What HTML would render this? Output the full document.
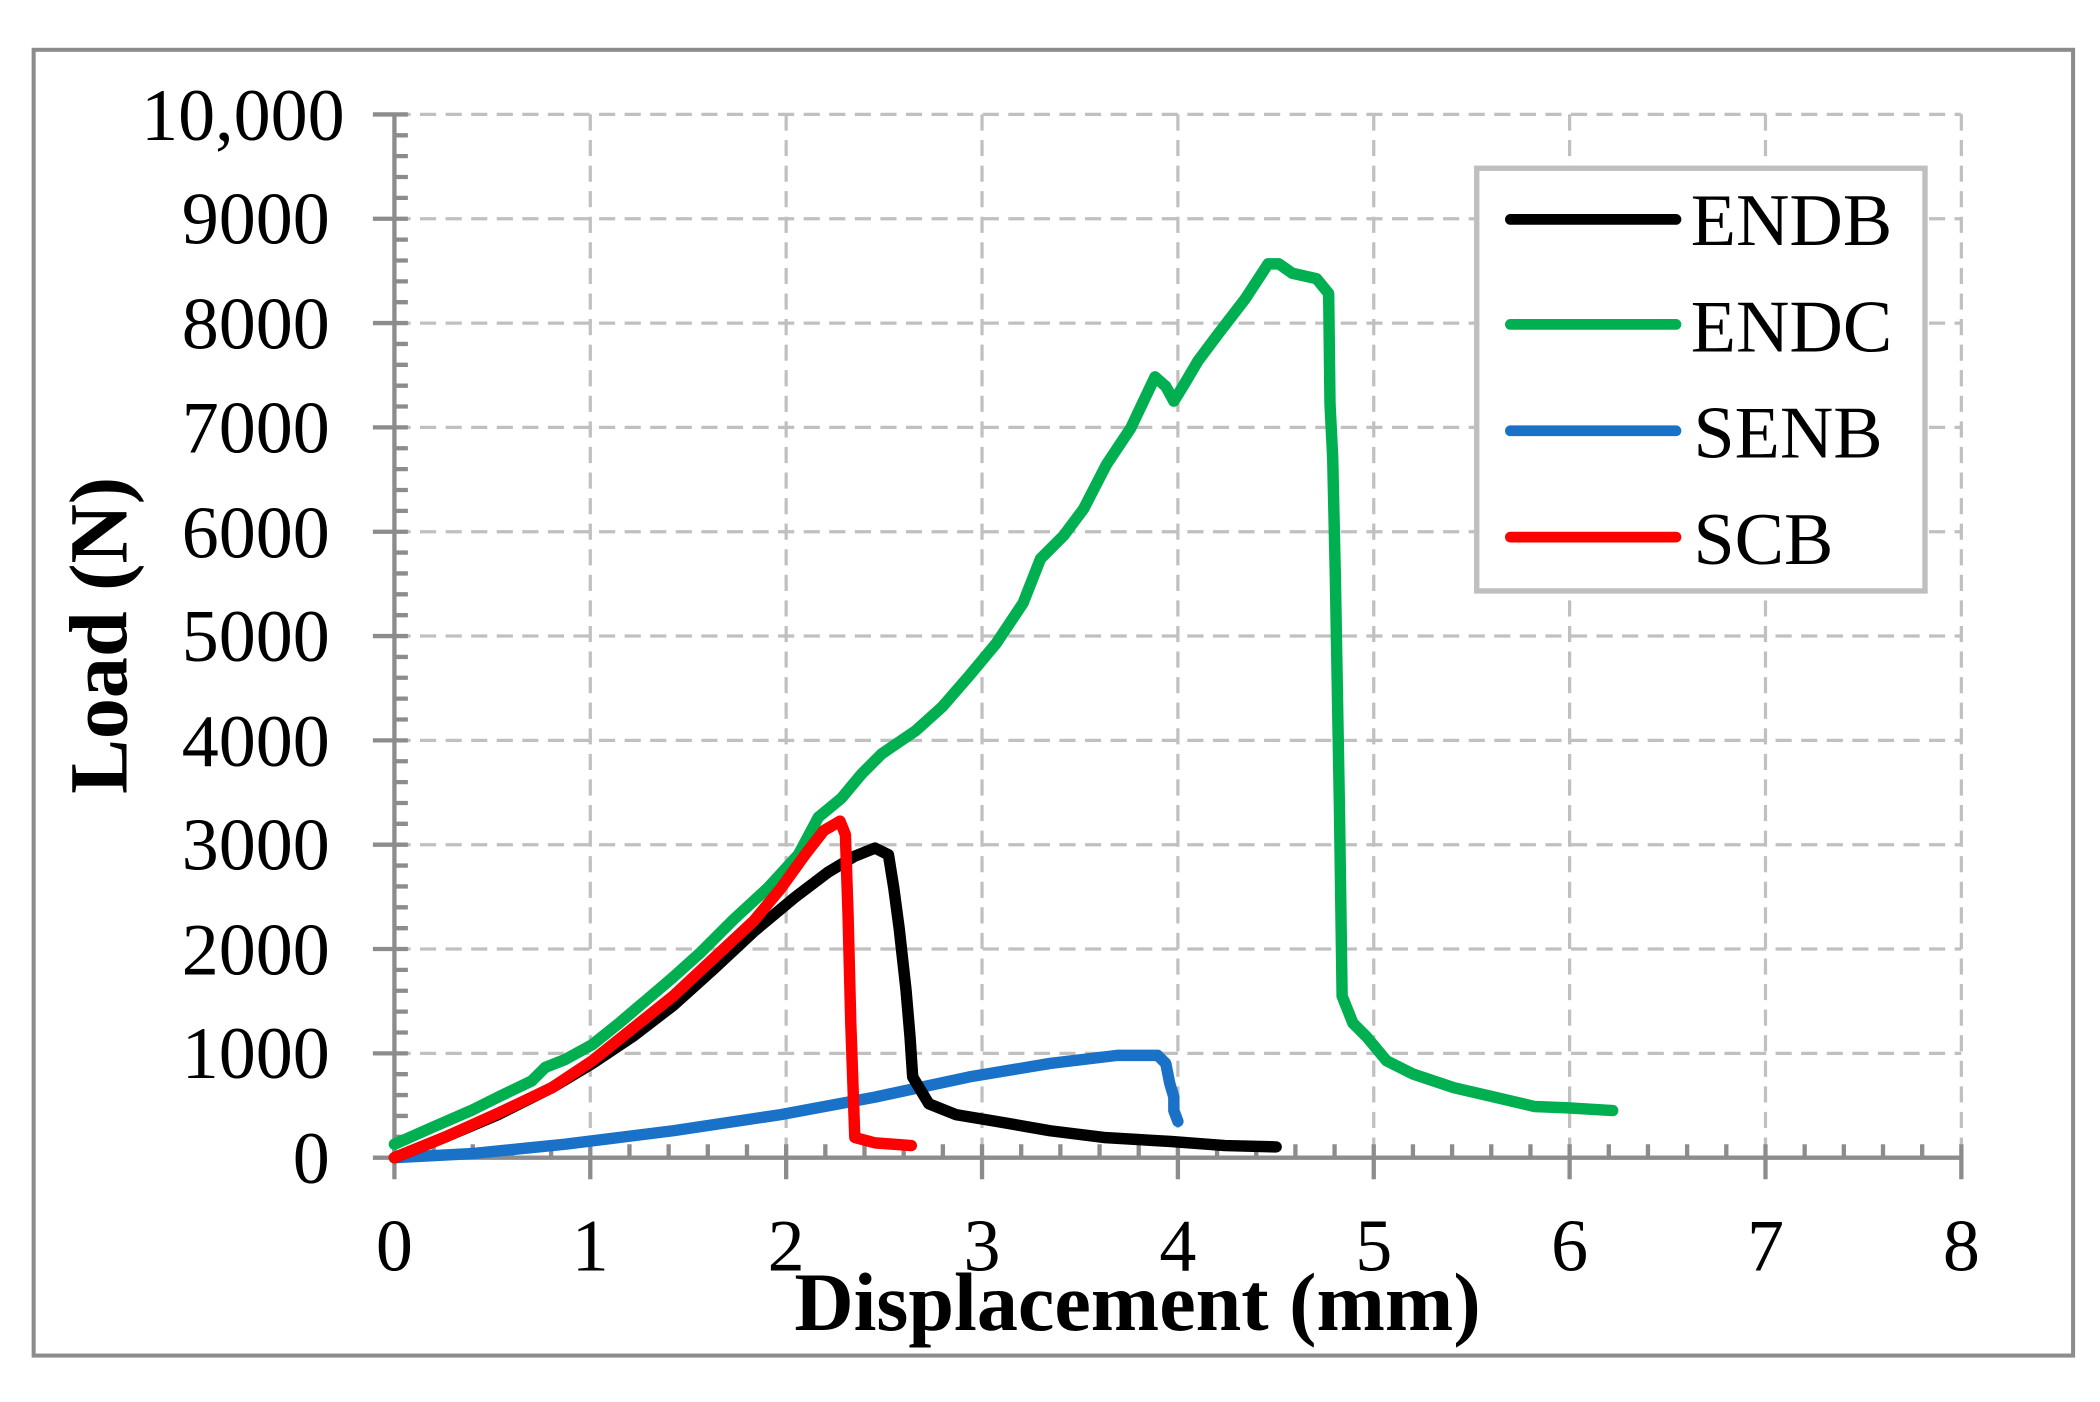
<!DOCTYPE html>
<html><head><meta charset="utf-8"><style>html,body{margin:0;padding:0;background:#fff}svg{display:block}</style></head>
<body>
<svg width="2100" height="1402" viewBox="0 0 1560 1041.5" preserveAspectRatio="none" xmlns="http://www.w3.org/2000/svg" font-family="'Liberation Serif', serif">
<rect x="0" y="0" width="1560" height="1041.5" fill="#fff"/>
<rect x="25" y="37" width="1515" height="970" fill="none" stroke="#8c8c8c" stroke-width="3"/>
<g stroke="#c0c0c0" stroke-width="2.4" stroke-dasharray="12 7">
<line x1="438.5" y1="85" x2="438.5" y2="860"/><line x1="584" y1="85" x2="584" y2="860"/><line x1="729.5" y1="85" x2="729.5" y2="860"/><line x1="875" y1="85" x2="875" y2="860"/><line x1="1020.5" y1="85" x2="1020.5" y2="860"/><line x1="1166" y1="85" x2="1166" y2="860"/><line x1="1311.5" y1="85" x2="1311.5" y2="860"/><line x1="1457" y1="85" x2="1457" y2="860"/>
<line x1="293" y1="85" x2="1457" y2="85"/><line x1="293" y1="162.5" x2="1457" y2="162.5"/><line x1="293" y1="240" x2="1457" y2="240"/><line x1="293" y1="317.5" x2="1457" y2="317.5"/><line x1="293" y1="395" x2="1457" y2="395"/><line x1="293" y1="472.5" x2="1457" y2="472.5"/><line x1="293" y1="550" x2="1457" y2="550"/><line x1="293" y1="627.5" x2="1457" y2="627.5"/><line x1="293" y1="705" x2="1457" y2="705"/><line x1="293" y1="782.5" x2="1457" y2="782.5"/>
</g>
<g stroke="#8c8c8c" stroke-width="3.2">
<line x1="293" y1="85" x2="293" y2="860"/><line x1="293" y1="860" x2="1457" y2="860"/>
<path d="M277 85H303M277 162.5H303M277 240H303M277 317.5H303M277 395H303M277 472.5H303M277 550H303M277 627.5H303M277 705H303M277 782.5H303M277 860H303"/>
<path d="M293 100.5h10M293 116h10M293 131.5h10M293 147h10M293 178h10M293 193.5h10M293 209h10M293 224.5h10M293 255.5h10M293 271h10M293 286.5h10M293 302h10M293 333h10M293 348.5h10M293 364h10M293 379.5h10M293 410.5h10M293 426h10M293 441.5h10M293 457h10M293 488h10M293 503.5h10M293 519h10M293 534.5h10M293 565.5h10M293 581h10M293 596.5h10M293 612h10M293 643h10M293 658.5h10M293 674h10M293 689.5h10M293 720.5h10M293 736h10M293 751.5h10M293 767h10M293 798h10M293 813.5h10M293 829h10M293 844.5h10"/>
<path d="M293 850V876M438.5 850V876M584 850V876M729.5 850V876M875 850V876M1020.5 850V876M1166 850V876M1311.5 850V876M1457 850V876"/>
<path d="M322.1 850v10M351.2 850v10M380.3 850v10M409.4 850v10M467.6 850v10M496.7 850v10M525.8 850v10M554.9 850v10M613.1 850v10M642.2 850v10M671.3 850v10M700.4 850v10M758.6 850v10M787.7 850v10M816.8 850v10M845.9 850v10M904.1 850v10M933.2 850v10M962.3 850v10M991.4 850v10M1049.6 850v10M1078.7 850v10M1107.8 850v10M1136.9 850v10M1195.1 850v10M1224.2 850v10M1253.3 850v10M1282.4 850v10M1340.6 850v10M1369.7 850v10M1398.8 850v10M1427.9 850v10"/>
</g>
<g font-size="55" fill="#000" text-anchor="end">
<text x="256" y="104">10,000</text><text x="245" y="181">9000</text><text x="245" y="259">8000</text><text x="245" y="336">7000</text><text x="245" y="414">6000</text><text x="245" y="491">5000</text><text x="245" y="569">4000</text><text x="245" y="646">3000</text><text x="245" y="724">2000</text><text x="245" y="801">1000</text><text x="245" y="879">0</text>
</g>
<g font-size="55" fill="#000" text-anchor="middle">
<text x="293" y="944">0</text><text x="438.5" y="944">1</text><text x="584" y="944">2</text><text x="729.5" y="944">3</text><text x="875" y="944">4</text><text x="1020.5" y="944">5</text><text x="1166" y="944">6</text><text x="1311.5" y="944">7</text><text x="1457" y="944">8</text>
</g>
<text x="845" y="988" font-size="61" font-weight="bold" text-anchor="middle">Displacement (mm)</text>
<text transform="translate(94,472) rotate(-90)" font-size="61" font-weight="bold" text-anchor="middle">Load (N)</text>
<g fill="none" stroke-width="8.5" stroke-linejoin="round" stroke-linecap="round">
<polyline stroke="#1a72c8" points="293,860 350,857 420,850 500,840 580,828 650,815 720,800 780,790 830,784 860,784 866,790 869,805 872,815 872,825 875,833"/>
<polyline stroke="#000" points="293,860 330,845 370,828 410,808 440,790 470,770 500,747 530,720 560,692 590,667 615,648 635,636 650,630 660,635 664,660 668,690 673,735 676,770 678,800 690,820 710,828 740,833 780,840 820,845 870,848 910,851 948,852"/>
<polyline stroke="#00b050" points="293,850 320,838 350,825 370,815 395,803 405,793 420,787 440,776 460,760 480,743 500,726 520,708 545,683 570,660 593,635 608,607 625,593 640,575 655,560 680,543 700,525 720,502 740,478 760,448 773,415 790,398 805,378 822,345 840,318 858,280 866,287 872,298 880,285 890,268 905,248 925,222 942,196 950,196 960,203 978,207 987,218 988,300 990,340 992,430 995,600 997,740 1005,760 1015,770 1030,788 1050,798 1080,808 1110,815 1140,822 1165,823 1198,825"/>
<polyline stroke="#ff0000" points="293,860 330,845 370,827 410,808 440,788 470,764 500,740 530,712 560,684 580,660 598,635 612,617 624,610 628,620 630,680 632,760 635,845 650,849 677,851"/>
</g>
<rect x="1097" y="125" width="333" height="314" fill="#fff" stroke="#bfbfbf" stroke-width="4"/>
<g stroke-width="8" stroke-linecap="round">
<line x1="1122" y1="163" x2="1245" y2="163" stroke="#000"/>
<line x1="1122" y1="241" x2="1245" y2="241" stroke="#00b050"/>
<line x1="1122" y1="320" x2="1245" y2="320" stroke="#1a72c8"/>
<line x1="1122" y1="399" x2="1245" y2="399" stroke="#ff0000"/>
</g>
<g font-size="55" fill="#000">
<text x="1256" y="182">ENDB</text><text x="1256" y="261">ENDC</text><text x="1258" y="340">SENB</text><text x="1258" y="419">SCB</text>
</g>
</svg>
</body></html>
